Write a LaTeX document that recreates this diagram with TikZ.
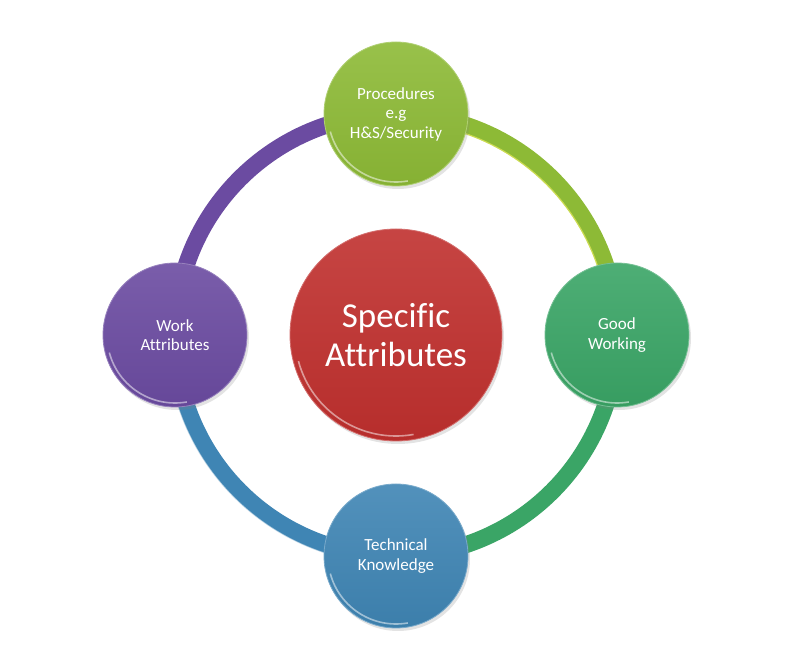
\documentclass[tikz,border=0pt]{standalone}
\usepackage{fontspec}
\setmainfont{Carlito}[Ligatures={NoCommon}]
\usetikzlibrary{shadows}
\definecolor{cLime}{HTML}{8DBA36}
\definecolor{cGreen}{HTML}{3AA566}
\definecolor{cBlue}{HTML}{3F85B4}
\definecolor{cPurple}{HTML}{6B4BA1}
\definecolor{cRed}{HTML}{C0302E}
\tikzset{
  ringseg/.style={line width=17pt},
  glow/.style={line width=1.2pt, opacity=0.55},
  ball/.style={circle, inner sep=0pt, text=white, align=center,
    top color=#1!90!white, bottom color=#1!95!black, draw=#1!70!white, line width=0.8pt,
    drop shadow={opacity=0.22, shadow xshift=2pt, shadow yshift=-3pt}},
  sat/.style={ball=#1, minimum size=144pt, font=\fontsize{17}{19.5}\selectfont},
  hub/.style={ball=#1, minimum size=212pt, font=\fontsize{35}{38.5}\selectfont},
  rim/.style={white, line width=1.6pt, opacity=0.5}
}
\begin{document}
\begin{tikzpicture}[x=1pt,y=1pt]
\useasboundingbox[fill=white] (0,0) rectangle (809,655);
% centres
\coordinate (c) at (396,320);
\coordinate (pt) at (396,541);
\coordinate (pr) at (617,320);
\coordinate (pb) at (396,99);
\coordinate (pl) at (175,320);
% ring segments
\draw[ringseg, cLime] (pt) arc[start angle=90, end angle=0, radius=221];
\draw[ringseg, cGreen] (pr) arc[start angle=0, end angle=-90, radius=221];
\draw[ringseg, cBlue] (pb) arc[start angle=-90, end angle=-180, radius=221];
\draw[ringseg, cPurple] (pl) arc[start angle=180, end angle=90, radius=221];
% highlights
\draw[glow, yellow!60!white] (c) ++(90:213) arc[start angle=90, end angle=0, radius=213];
\draw[glow, white] (c) ++(-90:229.5) arc[start angle=-90, end angle=-180, radius=229.5];
% nodes
\node[hub=cRed] (hub) at (c) {Specific\\Attributes};
\node[sat=cLime] (top) at (pt) {Procedures\\e.g\\H\&S/Security};
\node[sat=cGreen] (right) at (pr) {Good\\Working};
\node[sat=cBlue] (bottom) at (pb) {Technical\\Knowledge};
\node[sat=cPurple] (left) at (pl) {Work\\Attributes};
% rim reflections
\foreach \n in {top,right,bottom,left}{
  \draw[rim] (\n.center) ++(195:68) arc[start angle=195, end angle=280, radius=68];
}
\draw[rim] (hub.center) ++(195:101) arc[start angle=195, end angle=280, radius=101];
\end{tikzpicture}
\end{document}
